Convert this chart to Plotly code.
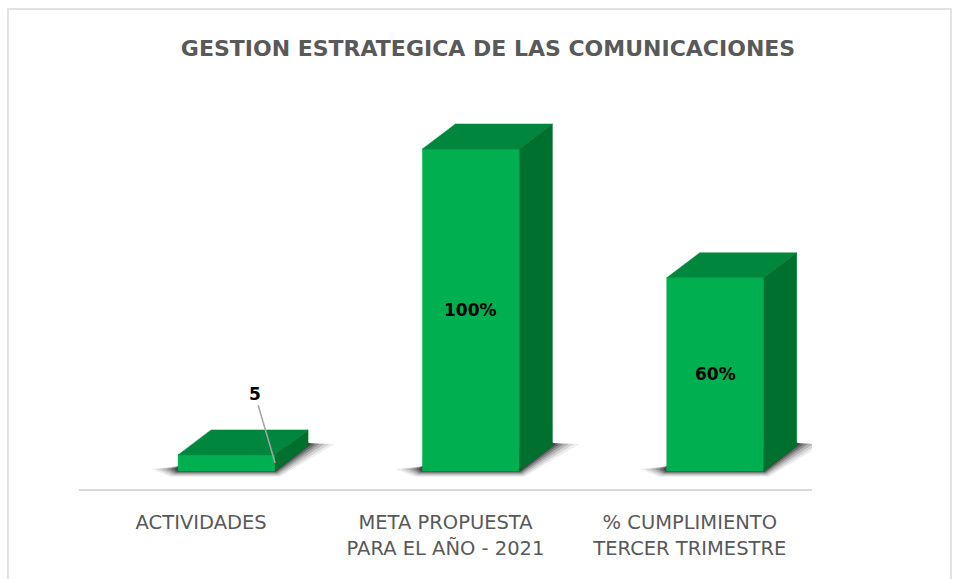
import plotly.graph_objects as go

# ---- data ----
categories = ["ACTIVIDADES", "META PROPUESTA<br>PARA EL AÑO - 2021", "% CUMPLIMIENTO<br>TERCER TRIMESTRE"]
values = [5, 100, 60]
value_labels = ["5", "100%", "60%"]
title_text = "GESTION ESTRATEGICA DE LAS COMUNICACIONES"

# ---- style ----
FRONT = "#00B050"
TOP = "#00873D"
SIDE = "#00702F"
OFF = 0.104      # front-face offset from category centre
W = 0.397        # front-face width
DX = 0.135       # 3D depth (x units)
DY = 7.76        # 3D depth (y units)
FONT = "DejaVu Sans"

fig = go.Figure()
x_idx = list(range(len(categories)))


def poly(xs, ys, color, lw=0.0, lc=None):
    fig.add_trace(go.Scatter(x=xs + [xs[0]], y=ys + [ys[0]], fill="toself", mode="lines",
                             line=dict(width=lw, color=lc or color), fillcolor=color,
                             hoverinfo="skip", showlegend=False))


# soft shadows (drawn first, below the bars)
for i, v in zip(x_idx, values):
    xl = i + OFF - W / 2
    xr = i + OFF + W / 2
    for s, op in [(1.0, 0.07), (0.8, 0.1), (0.6, 0.15), (0.42, 0.2), (0.27, 0.27), (0.13, 0.34)]:
        px = [xl - 0.11 * s, xl - 0.03 * s, xr + 0.02 * s, xr + DX + 0.11 * s, xr + DX, xl]
        py = [0.6, -1.8 * s, -1.8 * s, DY + 0.6, DY + 1.0, 1.5]
        poly(px, py, f"rgba(0,0,0,{op})")

# bars: front, top and side faces
for i, v in zip(x_idx, values):
    xl = i + OFF - W / 2
    xr = i + OFF + W / 2
    poly([xl, xr, xr, xl], [0, 0, v, v], FRONT, 0.5)
    poly([xl, xr, xr + DX, xl + DX], [v, v, v + DY, v + DY], TOP, 0.5)
    poly([xr, xr, xr + DX, xr + DX], [0, v, v + DY, DY], SIDE, 0.5)

# data labels
for i, v, lab in zip(x_idx, values, value_labels):
    if v >= 20:
        fig.add_annotation(x=i + OFF, y=v / 2, text=f"<b>{lab}</b>", showarrow=False,
                           font=dict(family=FONT, size=17, color="black"))
    else:
        xr = i + OFF + W / 2
        fig.add_annotation(x=xr, y=v / 2, ax=xr - 0.083, ay=v + 19, axref="x", ayref="y",
                           text=f"<b>{lab}</b>", showarrow=True, arrowhead=0, arrowwidth=1.5,
                           arrowcolor="#A6A6A6", standoff=0, startstandoff=0,
                           font=dict(family=FONT, size=17, color="black"))

# chart border
fig.add_shape(type="rect", xref="paper", yref="paper", x0=-0.0969, x1=1.1896, y0=-0.26, y1=1.234,
              line=dict(color="#D9D9D9", width=1.5), fillcolor="rgba(0,0,0,0)")

fig.update_layout(
    width=954, height=579,
    margin=dict(l=79, r=142, t=100, b=90),
    paper_bgcolor="white", plot_bgcolor="white",
    title=dict(text=f"<b>{title_text}</b>", x=488 / 954, xref="container", y=1 - 48 / 579, yanchor="middle",
               xanchor="center", font=dict(family=FONT, size=22, color="#595959")),
    xaxis=dict(range=[-0.5, 2.5], tickvals=x_idx, ticktext=categories, showline=True, linecolor="#D9D9D9",
               linewidth=2, showgrid=False, zeroline=False, ticks="outside", ticklen=15,
               tickcolor="rgba(0,0,0,0)", tickfont=dict(family=FONT, size=19.5, color="#595959"), fixedrange=True),
    yaxis=dict(range=[-5.59, 115.2], visible=False, fixedrange=True),
)

fig.write_html("out.html", post_script="document.body.style.margin='0';",
               config={"displayModeBar": False})
